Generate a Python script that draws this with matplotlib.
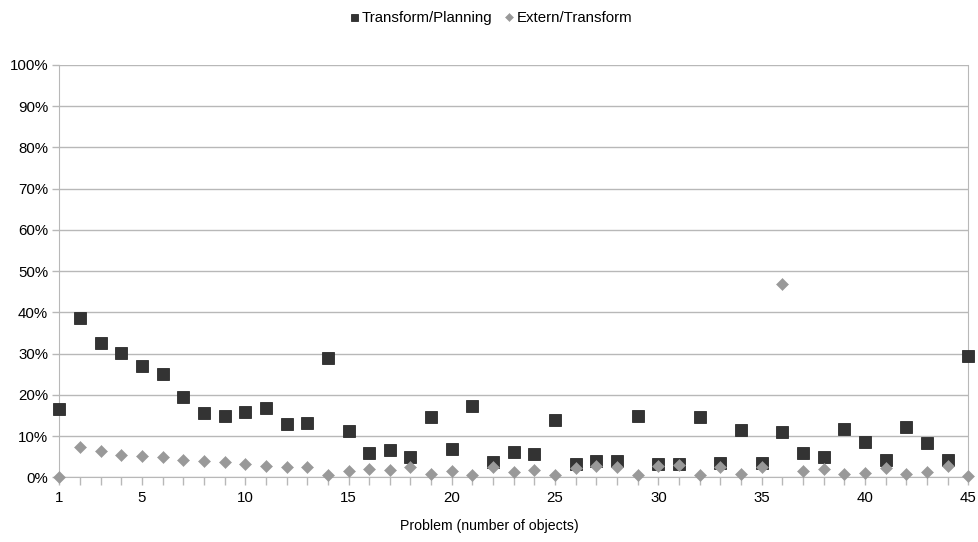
import numpy as np
import matplotlib
matplotlib.use('Agg')
import matplotlib.pyplot as plt
from matplotlib.ticker import FixedLocator, FuncFormatter

# values (percent)
problems = list(range(1, 46))
transform_planning = [16.5, 38.5, 32.6, 30.2, 27.1, 25.0, 19.4, 15.6, 14.9, 15.8,
                      16.9, 12.9, 13.1, 29.0, 11.2, 6.0, 6.5, 4.8, 14.6, 6.9,
                      17.2, 3.7, 6.2, 5.6, 14.0, 3.3, 3.9, 4.0, 14.8, 3.2,
                      3.3, 14.6, 3.4, 11.5, 3.5, 11.1, 5.8, 4.8, 11.6, 8.5,
                      4.2, 12.2, 8.2, 4.2, 29.4]
extern_transform = [0.0, 7.4, 6.3, 5.5, 5.1, 4.9, 4.2, 3.9, 3.7, 3.3,
                    2.7, 2.4, 2.4, 0.6, 1.5, 2.1, 1.7, 2.6, 0.7, 1.5,
                    0.5, 2.5, 1.2, 1.8, 0.6, 2.3, 2.7, 2.6, 0.6, 2.7,
                    2.9, 0.6, 2.6, 0.8, 2.4, 46.8, 1.5, 2.0, 0.8, 1.1,
                    2.3, 0.9, 1.2, 2.8, 0.2]
x_labels = [1, 5, 10, 15, 20, 25, 30, 35, 40, 45]

plt.rcParams['font.family'] = ['Liberation Sans', 'DejaVu Sans']

fig = plt.figure(figsize=(9.79, 5.42), dpi=100)
ax = fig.add_axes([0.0606, 0.1194, 0.9284, 0.761])

grid_col = '#b8b8b8'
ax.plot(problems, transform_planning, 's', ms=8.4, color='#333333',
        markeredgecolor='#2a2a2a', markeredgewidth=0.6, clip_on=False,
        label='Transform/Planning', zorder=3)
ax.plot(problems, extern_transform, 'D', ms=6.3, color='#999999',
        markeredgecolor='#999999', markeredgewidth=0.4, clip_on=False,
        label='Extern/Transform', zorder=4)

ax.set_xlim(1, 45)
ax.set_ylim(0, 100)

ax.xaxis.set_major_locator(FixedLocator(x_labels))
ax.xaxis.set_minor_locator(FixedLocator(problems))
ax.set_yticks(np.arange(0, 101, 10))
ax.yaxis.set_major_formatter(FuncFormatter(lambda v, p: '%d%%' % v))

ax.tick_params(axis='both', which='both', direction='out', color=grid_col,
               width=1, labelsize=10.8, labelcolor='black')
ax.tick_params(axis='x', which='both', length=6, pad=4)
ax.tick_params(axis='y', which='major', length=5, pad=3)

ax.grid(axis='y', color=grid_col, linewidth=1)
ax.set_axisbelow(True)
for side in ['left', 'right', 'bottom']:
    ax.spines[side].set_color(grid_col)
ax.spines['top'].set_visible(False)

fig.text(0.5, 1 - 526 / 542, 'Problem (number of objects)', fontsize=10.2,
         ha='center', va='center')

fig.legend(loc='center', bbox_to_anchor=(0.502, 1 - 18 / 542), ncol=2,
           frameon=False, fontsize=10.8, handletextpad=0.25, columnspacing=0.85,
           handlelength=0.5, markerscale=0.6, borderaxespad=0, borderpad=0)

fig.savefig('out.png', dpi=100)
